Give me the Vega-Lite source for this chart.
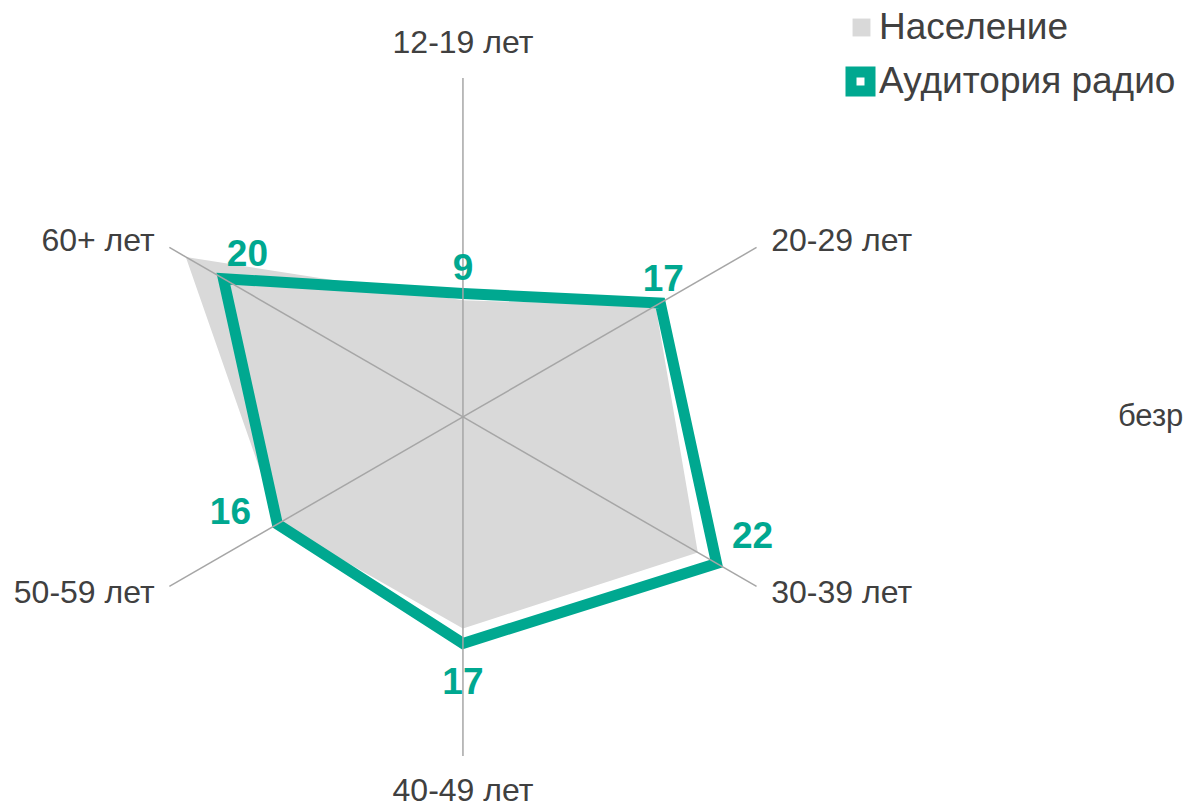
{
  "$schema": "https://vega.github.io/schema/vega-lite/v6.json",
  "width": 1183,
  "height": 806,
  "autosize": {"type": "none"},
  "padding": 0,
  "background": "white",
  "config": {"view": {"stroke": null}, "font": "Liberation Sans"},
  "datasets": {
    "cats": [
      {"k": 0, "age": "12-19 лет"},
      {"k": 1, "age": "20-29 лет"},
      {"k": 2, "age": "30-39 лет"},
      {"k": 3, "age": "40-49 лет"},
      {"k": 4, "age": "50-59 лет"},
      {"k": 5, "age": "60+ лет"}
    ],
    "vals": [
      {"k": 0, "age": "12-19 лет", "series": "Население", "value": 8.6},
      {"k": 1, "age": "20-29 лет", "series": "Население", "value": 16.4},
      {"k": 2, "age": "30-39 лет", "series": "Население", "value": 20.0},
      {"k": 3, "age": "40-49 лет", "series": "Население", "value": 15.6},
      {"k": 4, "age": "50-59 лет", "series": "Население", "value": 15.7},
      {"k": 5, "age": "60+ лет", "series": "Население", "value": 23.6},
      {"k": 0, "age": "12-19 лет", "series": "Аудитория радио", "value": 9.1},
      {"k": 1, "age": "20-29 лет", "series": "Аудитория радио", "value": 16.8},
      {"k": 2, "age": "30-39 лет", "series": "Аудитория радио", "value": 21.6},
      {"k": 3, "age": "40-49 лет", "series": "Аудитория радио", "value": 16.7},
      {"k": 4, "age": "50-59 лет", "series": "Аудитория радио", "value": 15.8},
      {"k": 5, "age": "60+ лет", "series": "Аудитория радио", "value": 20.4}
    ]
  },
  "layer": [
    {
      "data": {"name": "vals"},
      "transform": [
        {"filter": "datum.series === 'Население'"},
        {"calculate": "PI/2 - datum.k*PI/3", "as": "a"},
        {"calculate": "datum.value*cos(datum.a)", "as": "px"},
        {"calculate": "datum.value*sin(datum.a)", "as": "py"}
      ],
      "mark": {"type": "line", "interpolate": "linear-closed", "strokeWidth": 0, "strokeOpacity": 0},
      "encoding": {
        "x": {"field": "px", "type": "quantitative", "scale": {"domain": [-34.14, 53.1], "nice": false, "zero": false}, "axis": null},
        "y": {"field": "py", "type": "quantitative", "scale": {"domain": [-28.69, 30.75], "nice": false, "zero": false}, "axis": null},
        "order": {"field": "k", "type": "quantitative"},
        "fill": {
          "field": "series", "type": "nominal",
          "scale": {"domain": ["Население"], "range": ["#D9D9D9"]},
          "legend": {
            "orient": "none", "legendX": 843, "legendY": 9, "title": null, "padding": 0,
            "symbolType": "square", "symbolSize": 320, "symbolStrokeWidth": 0,
            "labelFontSize": 37, "labelColor": "#404040", "labelFont": "Liberation Sans", "labelOffset": -1, "labelLimit": 0
          }
        }
      }
    },
    {
      "data": {"name": "vals"},
      "transform": [
        {"filter": "datum.series === 'Аудитория радио'"},
        {"calculate": "PI/2 - datum.k*PI/3", "as": "a"},
        {"calculate": "datum.value*cos(datum.a)", "as": "px"},
        {"calculate": "datum.value*sin(datum.a)", "as": "py"}
      ],
      "mark": {"type": "line", "interpolate": "linear-closed", "strokeWidth": 11, "strokeJoin": "miter"},
      "encoding": {
        "x": {"field": "px", "type": "quantitative"},
        "y": {"field": "py", "type": "quantitative"},
        "order": {"field": "k", "type": "quantitative"},
        "stroke": {
          "field": "series", "type": "nominal",
          "scale": {"domain": ["Аудитория радио"], "range": ["#00A890"]},
          "legend": {
            "orient": "none", "legendX": 842, "legendY": 63, "title": null, "padding": 0,
            "symbolType": "square", "symbolSize": 361, "symbolStrokeWidth": 11, "symbolFillColor": "white",
            "labelFontSize": 37, "labelColor": "#404040", "labelFont": "Liberation Sans", "labelOffset": 0, "labelLimit": 0
          }
        }
      }
    },
    {
      "data": {"name": "cats"},
      "transform": [
        {"calculate": "PI/2 - datum.k*PI/3", "as": "a"},
        {"calculate": "25*cos(datum.a)", "as": "ex"},
        {"calculate": "25*sin(datum.a)", "as": "ey"},
        {"calculate": "0", "as": "c0"}
      ],
      "mark": {"type": "rule", "color": "#A6A6A6", "strokeWidth": 1.5},
      "encoding": {
        "x": {"field": "c0", "type": "quantitative"},
        "y": {"field": "c0", "type": "quantitative"},
        "x2": {"field": "ex"},
        "y2": {"field": "ey"}
      }
    },
    {
      "data": {"name": "cats"},
      "transform": [
        {"filter": "datum.k === 0 || datum.k === 3"},
        {"calculate": "PI/2 - datum.k*PI/3", "as": "a"},
        {"calculate": "27.6*cos(datum.a)", "as": "lx"},
        {"calculate": "27.6*sin(datum.a)", "as": "ly"}
      ],
      "mark": {"type": "text", "align": "center", "baseline": "middle", "fontSize": 32, "color": "#404040", "font": "Liberation Sans"},
      "encoding": {
        "x": {"field": "lx", "type": "quantitative"},
        "y": {"field": "ly", "type": "quantitative"},
        "text": {"field": "age", "type": "nominal"}
      }
    },
    {
      "data": {"name": "cats"},
      "transform": [
        {"filter": "datum.k === 1 || datum.k === 2"},
        {"calculate": "PI/2 - datum.k*PI/3", "as": "a"},
        {"calculate": "26*cos(datum.a)", "as": "lx"},
        {"calculate": "26*sin(datum.a)", "as": "ly"}
      ],
      "mark": {"type": "text", "align": "left", "baseline": "middle", "dx": 3, "fontSize": 32, "color": "#404040", "font": "Liberation Sans"},
      "encoding": {
        "x": {"field": "lx", "type": "quantitative"},
        "y": {"field": "ly", "type": "quantitative"},
        "text": {"field": "age", "type": "nominal"}
      }
    },
    {
      "data": {"name": "cats"},
      "transform": [
        {"filter": "datum.k === 4 || datum.k === 5"},
        {"calculate": "PI/2 - datum.k*PI/3", "as": "a"},
        {"calculate": "26*cos(datum.a)", "as": "lx"},
        {"calculate": "26*sin(datum.a)", "as": "ly"}
      ],
      "mark": {"type": "text", "align": "right", "baseline": "middle", "dx": -3, "fontSize": 32, "color": "#404040", "font": "Liberation Sans"},
      "encoding": {
        "x": {"field": "lx", "type": "quantitative"},
        "y": {"field": "ly", "type": "quantitative"},
        "text": {"field": "age", "type": "nominal"}
      }
    },
    {
      "data": {"name": "vals"},
      "transform": [
        {"filter": "datum.series === 'Аудитория радио' && datum.k === 0"},
        {"calculate": "PI/2 - datum.k*PI/3", "as": "a"},
        {"calculate": "datum.value*cos(datum.a)", "as": "px"},
        {"calculate": "datum.value*sin(datum.a)", "as": "py"}
      ],
      "mark": {"type": "text", "align": "center", "baseline": "middle", "dx": 0, "dy": -25, "fontSize": 37, "fontWeight": "bold", "color": "#00A890", "font": "Liberation Sans"},
      "encoding": {"x": {"field": "px", "type": "quantitative"}, "y": {"field": "py", "type": "quantitative"}, "text": {"field": "value", "type": "quantitative", "format": ".0f"}}
    },
    {
      "data": {"name": "vals"},
      "transform": [
        {"filter": "datum.series === 'Аудитория радио' && datum.k === 1"},
        {"calculate": "PI/2 - datum.k*PI/3", "as": "a"},
        {"calculate": "datum.value*cos(datum.a)", "as": "px"},
        {"calculate": "datum.value*sin(datum.a)", "as": "py"}
      ],
      "mark": {"type": "text", "align": "center", "baseline": "middle", "dx": 3, "dy": -23, "fontSize": 37, "fontWeight": "bold", "color": "#00A890", "font": "Liberation Sans"},
      "encoding": {"x": {"field": "px", "type": "quantitative"}, "y": {"field": "py", "type": "quantitative"}, "text": {"field": "value", "type": "quantitative", "format": ".0f"}}
    },
    {
      "data": {"name": "vals"},
      "transform": [
        {"filter": "datum.series === 'Аудитория радио' && datum.k === 2"},
        {"calculate": "PI/2 - datum.k*PI/3", "as": "a"},
        {"calculate": "datum.value*cos(datum.a)", "as": "px"},
        {"calculate": "datum.value*sin(datum.a)", "as": "py"}
      ],
      "mark": {"type": "text", "align": "center", "baseline": "middle", "dx": 36, "dy": -26, "fontSize": 37, "fontWeight": "bold", "color": "#00A890", "font": "Liberation Sans"},
      "encoding": {"x": {"field": "px", "type": "quantitative"}, "y": {"field": "py", "type": "quantitative"}, "text": {"field": "value", "type": "quantitative", "format": ".0f"}}
    },
    {
      "data": {"name": "vals"},
      "transform": [
        {"filter": "datum.series === 'Аудитория радио' && datum.k === 3"},
        {"calculate": "PI/2 - datum.k*PI/3", "as": "a"},
        {"calculate": "datum.value*cos(datum.a)", "as": "px"},
        {"calculate": "datum.value*sin(datum.a)", "as": "py"}
      ],
      "mark": {"type": "text", "align": "center", "baseline": "middle", "dx": 0, "dy": 40, "fontSize": 37, "fontWeight": "bold", "color": "#00A890", "font": "Liberation Sans"},
      "encoding": {"x": {"field": "px", "type": "quantitative"}, "y": {"field": "py", "type": "quantitative"}, "text": {"field": "value", "type": "quantitative", "format": ".0f"}}
    },
    {
      "data": {"name": "vals"},
      "transform": [
        {"filter": "datum.series === 'Аудитория радио' && datum.k === 4"},
        {"calculate": "PI/2 - datum.k*PI/3", "as": "a"},
        {"calculate": "datum.value*cos(datum.a)", "as": "px"},
        {"calculate": "datum.value*sin(datum.a)", "as": "py"}
      ],
      "mark": {"type": "text", "align": "center", "baseline": "middle", "dx": -47, "dy": -11, "fontSize": 37, "fontWeight": "bold", "color": "#00A890", "font": "Liberation Sans"},
      "encoding": {"x": {"field": "px", "type": "quantitative"}, "y": {"field": "py", "type": "quantitative"}, "text": {"field": "value", "type": "quantitative", "format": ".0f"}}
    },
    {
      "data": {"name": "vals"},
      "transform": [
        {"filter": "datum.series === 'Аудитория радио' && datum.k === 5"},
        {"calculate": "PI/2 - datum.k*PI/3", "as": "a"},
        {"calculate": "datum.value*cos(datum.a)", "as": "px"},
        {"calculate": "datum.value*sin(datum.a)", "as": "py"}
      ],
      "mark": {"type": "text", "align": "center", "baseline": "middle", "dx": 24, "dy": -24, "fontSize": 37, "fontWeight": "bold", "color": "#00A890", "font": "Liberation Sans"},
      "encoding": {"x": {"field": "px", "type": "quantitative"}, "y": {"field": "py", "type": "quantitative"}, "text": {"field": "value", "type": "quantitative", "format": ".0f"}}
    },
    {
      "data": {"values": [{"note": "безр", "nx": 48.3, "ny": 0}]},
      "mark": {"type": "text", "align": "left", "baseline": "middle", "fontSize": 31, "color": "#404040", "font": "Liberation Sans"},
      "encoding": {
        "x": {"field": "nx", "type": "quantitative"},
        "y": {"field": "ny", "type": "quantitative"},
        "text": {"field": "note", "type": "nominal"}
      }
    }
  ]
}
